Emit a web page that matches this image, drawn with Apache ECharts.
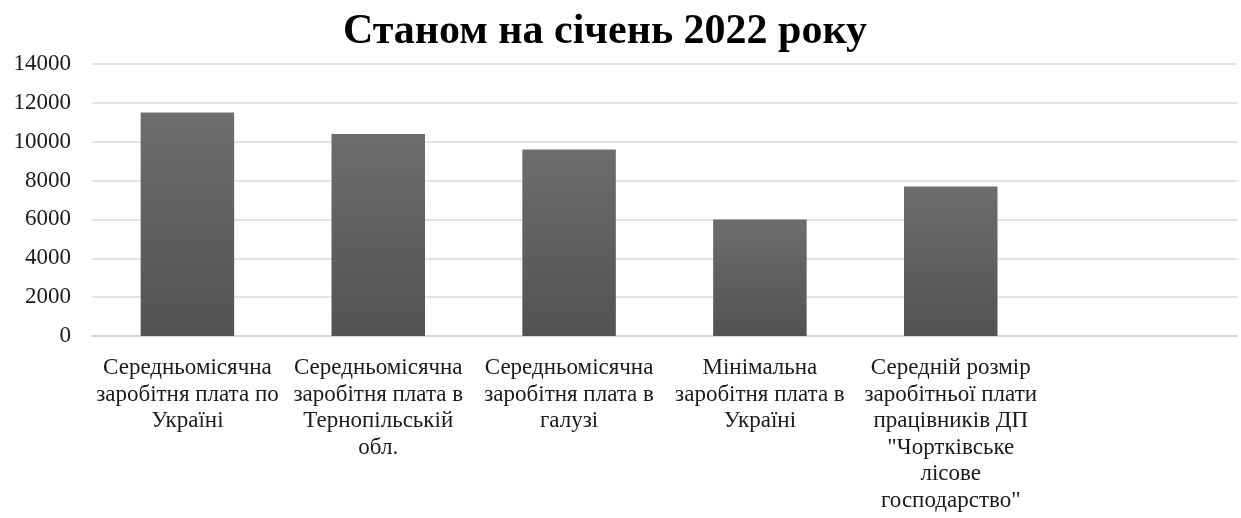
<!DOCTYPE html>
<html>
<head>
<meta charset="utf-8">
<script src="https://cdn.jsdelivr.net/npm/echarts@6/dist/echarts.min.js"></script>
<style>
  html, body { margin: 0; padding: 0; background: #fff; }
  #chart { width: 1241px; height: 518px; }
</style>
</head>
<body>
<div id="chart"></div>
<script>
// Average wages, January 2022 (UAH)
const titleText = 'Станом на січень 2022 року';
const categories = [
  'Середньомісячна\nзаробітня плата по\nУкраїні',
  'Середньомісячна\nзаробітня плата в\nТернопільській\nобл.',
  'Середньомісячна\nзаробітня плата в\nгалузі',
  'Мінімальна\nзаробітня плата в\nУкраїні',
  'Середній розмір\nзаробітньої плати\nпрацівників ДП\n"Чортківське\nлісове\nгосподарство"',
  ''
];
const wages = [11500, 10400, 9600, 6000, 7700, null];
const yTicks = { min: 0, max: 14000, interval: 2000 };

const serif = '"Liberation Serif", "DejaVu Serif", serif';

const chart = echarts.init(document.getElementById('chart'), null, { renderer: 'canvas' });
chart.setOption({
  animation: false,
  backgroundColor: '#ffffff',
  title: {
    text: titleText,
    left: 600,
    textAlign: 'center',
    top: 6,
    textStyle: { fontFamily: serif, fontWeight: 'bold', fontSize: 42, color: '#000' }
  },
  grid: { left: 92, right: 4, top: 64, bottom: 182, containLabel: false },
  xAxis: {
    type: 'category',
    data: categories,
    axisLine: { show: true, lineStyle: { color: '#d0d0d0', width: 1.5 } },
    axisTick: { show: false },
    axisLabel: {
      interval: 0,
      margin: 19,
      fontFamily: serif,
      fontSize: 23,
      lineHeight: 26.5,
      color: '#1a1a1a',
      align: 'center'
    }
  },
  yAxis: {
    type: 'value',
    min: yTicks.min,
    max: yTicks.max,
    interval: yTicks.interval,
    axisLine: { show: false },
    axisTick: { show: false },
    axisLabel: {
      margin: 21,
      fontFamily: serif,
      fontSize: 23,
      color: '#1a1a1a',
      formatter: (v) => String(v)
    },
    splitLine: { lineStyle: { color: '#dadada', width: 1.5 } }
  },
  series: [{
    type: 'bar',
    data: wages,
    barWidth: '49%',
    itemStyle: {
      color: new echarts.graphic.LinearGradient(0, 0, 0, 1, [
        { offset: 0, color: '#6d6d6d' },
        { offset: 1, color: '#535353' }
      ])
    }
  }]
});
</script>
</body>
</html>
